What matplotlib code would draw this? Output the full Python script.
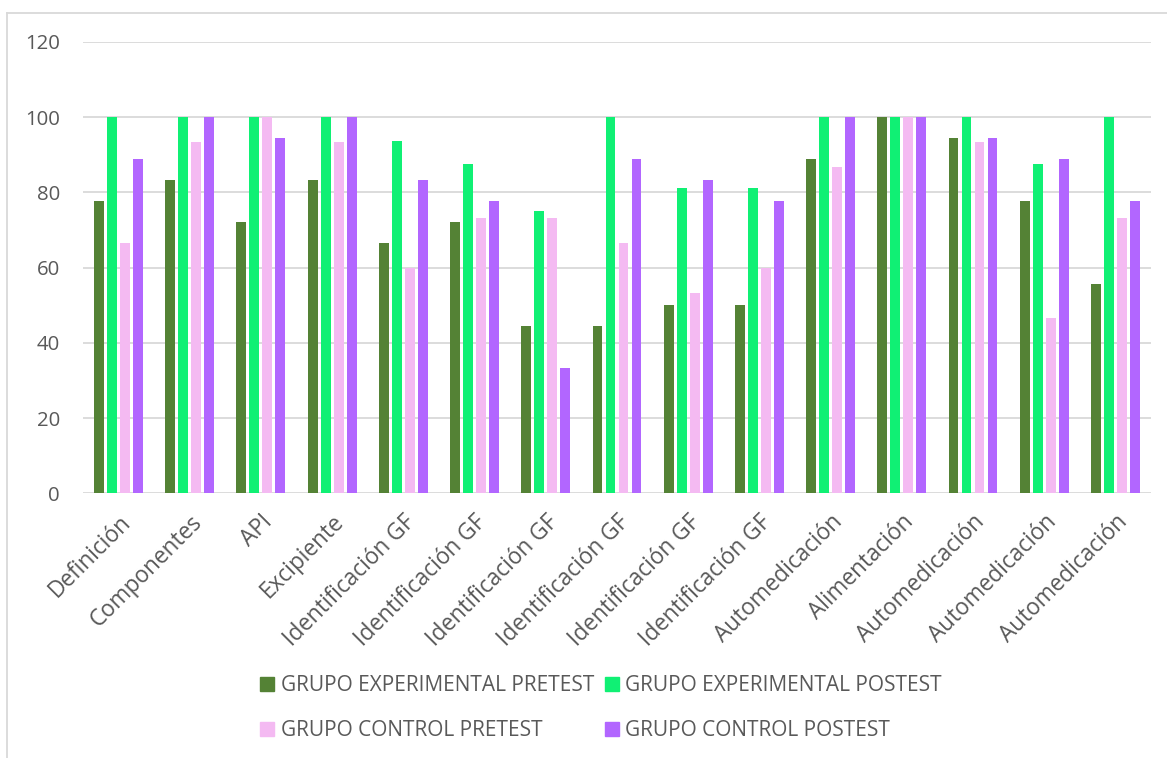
#!/usr/bin/env python

import numpy as np
import matplotlib.pyplot as plt
from matplotlib.lines import Line2D

plt.rcParams['font.family'] = ['Open Sans', 'DejaVu Sans']

categories = ['Definición', 'Componentes', 'API', 'Excipiente',
              'Identificación GF', 'Identificación GF', 'Identificación GF',
              'Identificación GF', 'Identificación GF', 'Identificación GF',
              'Automedicación', 'Alimentación', 'Automedicación',
              'Automedicación', 'Automedicación']

exp_pre = [77.8, 83.3, 72.2, 83.3, 66.7, 72.2, 44.4, 44.4, 50.0, 50.0,
           88.9, 100.0, 94.4, 77.8, 55.6]
exp_post = [100.0, 100.0, 100.0, 100.0, 93.8, 87.5, 75.0, 100.0, 81.3, 81.3,
            100.0, 100.0, 100.0, 87.5, 100.0]
ctrl_pre = [66.7, 93.3, 100.0, 93.3, 60.0, 73.3, 73.3, 66.7, 53.3, 60.0,
            86.7, 100.0, 93.3, 46.7, 73.3]
ctrl_post = [88.9, 100.0, 94.4, 100.0, 83.3, 77.8, 33.3, 88.9, 83.3, 77.8,
             100.0, 100.0, 94.4, 88.9, 77.8]

series = [
    ('GRUPO EXPERIMENTAL PRETEST', exp_pre, '#548235'),
    ('GRUPO EXPERIMENTAL POSTEST', exp_post, '#10F074'),
    ('GRUPO CONTROL PRETEST', ctrl_pre, '#F4BAF2'),
    ('GRUPO CONTROL POSTEST', ctrl_post, '#B266FF'),
]

text_col = '#595959'
grid_col = '#D9D9D9'


def main():
    fig = plt.figure(figsize=(11.67, 7.58), dpi=100)
    ax = fig.add_axes([0.0711, 0.349, 0.9152, 0.5956])

    x = np.arange(len(categories))
    slot = 0.1826
    width = 0.14
    for i, (label, vals, col) in enumerate(series):
        ax.bar(x + (i - 1.5) * slot, vals, width=width, color=col,
               label=label, zorder=3)

    ax.set_xlim(-0.5, len(categories) - 0.5)
    ax.set_ylim(0, 120)
    ax.set_yticks(np.arange(0, 121, 20))
    ax.yaxis.grid(True, color=grid_col, linewidth=1.3, zorder=0)
    ax.set_axisbelow(True)
    for s in ax.spines.values():
        s.set_visible(False)
    ax.tick_params(length=0, labelcolor=text_col)
    ax.tick_params(axis='y', pad=16.5, labelsize=14.7)

    ax.set_xticks(x)
    ax.set_xticklabels(categories, rotation=45, ha='right',
                       rotation_mode='anchor', fontsize=16.3, color=text_col)
    ax.tick_params(axis='x', pad=12)

    # legend: two columns below the category labels
    handles = [Line2D([], [], marker='s', linestyle='none', markersize=10,
                      markerfacecolor=c, markeredgecolor=c)
               for _, _, c in series]
    labels = [s[0] for s in series]
    order = [0, 2, 1, 3]
    fig.legend([handles[i] for i in order], [labels[i] for i in order],
               ncol=2, loc='center', bbox_to_anchor=(0.515, 0.066),
               frameon=False, fontsize=15, labelcolor=text_col,
               handlelength=0.7, handletextpad=0.3, columnspacing=0.5,
               labelspacing=1.15)

    # light frame around the chart
    fig.add_artist(Line2D([0.006, 0.006], [0.0, 0.983], color=grid_col,
                          linewidth=1.3, transform=fig.transFigure))
    fig.add_artist(Line2D([0.006, 1.0], [0.983, 0.983], color=grid_col,
                          linewidth=1.3, transform=fig.transFigure))

    fig.savefig('out.png', dpi=100)
    plt.close(fig)


if __name__ == "__main__":
    main()
